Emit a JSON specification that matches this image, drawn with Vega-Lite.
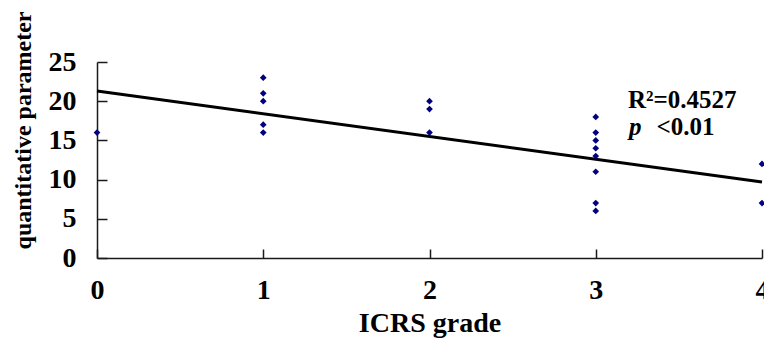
{
  "$schema": "https://vega.github.io/schema/vega-lite/v6.json",
  "width": 665,
  "height": 196,
  "autosize": {"type": "none"},
  "padding": {"left": 97, "top": 62, "right": 2, "bottom": 80},
  "background": "white",
  "config": {
    "view": {"stroke": null},
    "font": "Liberation Serif",
    "axis": {
      "grid": false,
      "domainColor": "#1a1a1a",
      "domainWidth": 1.5,
      "tickColor": "#1a1a1a",
      "tickWidth": 1.5,
      "labelFont": "Liberation Serif",
      "labelFontWeight": "bold",
      "labelFontSize": 28,
      "labelColor": "black",
      "labelFlush": false,
      "labelOverlap": false,
      "titleFont": "Liberation Serif",
      "titleFontWeight": "bold",
      "titleColor": "black"
    }
  },
  "datasets": {
    "points": [
      {"grade": 0, "value": 16},
      {"grade": 1, "value": 23},
      {"grade": 1, "value": 21},
      {"grade": 1, "value": 20},
      {"grade": 1, "value": 17},
      {"grade": 1, "value": 16},
      {"grade": 2, "value": 20},
      {"grade": 2, "value": 19},
      {"grade": 2, "value": 16},
      {"grade": 3, "value": 18},
      {"grade": 3, "value": 16},
      {"grade": 3, "value": 15},
      {"grade": 3, "value": 14},
      {"grade": 3, "value": 13},
      {"grade": 3, "value": 11},
      {"grade": 3, "value": 7},
      {"grade": 3, "value": 6},
      {"grade": 4, "value": 12},
      {"grade": 4, "value": 7}
    ],
    "trend": [
      {"grade": 0, "value": 21.3},
      {"grade": 4, "value": 9.7}
    ],
    "notes": [
      {"label": "R²=0.4527", "grade": 3.194, "value": 19.13},
      {"label": "<0.01", "grade": 3.365, "value": 15.69}
    ],
    "notesItalic": [
      {"label": "p", "grade": 3.2, "value": 15.69}
    ]
  },
  "resolve": {"axis": {"x": "independent", "y": "independent"}},
  "layer": [
    {
      "data": {"name": "trend"},
      "mark": {"type": "line", "color": "black", "strokeWidth": 3},
      "encoding": {
        "x": {
          "field": "grade", "type": "quantitative",
          "scale": {"domain": [0, 4], "nice": false, "zero": false},
          "axis": {
            "orient": "bottom",
            "title": "ICRS grade",
            "values": [0, 1, 2, 3, 4],
            "format": "d",
            "ticks": false,
            "labelPadding": 32,
            "labelBaseline": "middle",
            "titleFontSize": 28,
            "titleBaseline": "alphabetic",
            "titleY": 73
          }
        },
        "y": {
          "field": "value", "type": "quantitative",
          "scale": {"domain": [0, 25], "nice": false},
          "axis": {
            "orient": "left",
            "title": "quantitative parameter",
            "values": [0, 5, 10, 15, 20, 25],
            "format": "d",
            "ticks": false,
            "labelPadding": 21,
            "titleFontSize": 24,
            "titleBaseline": "middle",
            "titleAlign": "center",
            "titleX": -74,
            "titleY": 68
          }
        }
      }
    },
    {
      "data": {"name": "points"},
      "mark": {"type": "point", "shape": "diamond", "filled": true, "color": "#000080", "size": 45, "opacity": 1},
      "encoding": {
        "x": {
          "field": "grade", "type": "quantitative",
          "axis": {
            "orient": "bottom",
            "offset": -9,
            "values": [0, 1, 2, 3, 4],
            "domain": false,
            "labels": false,
            "ticks": true,
            "tickSize": 9,
            "title": null
          }
        },
        "y": {
          "field": "value", "type": "quantitative",
          "axis": {
            "orient": "left",
            "offset": -10,
            "values": [0, 5, 10, 15, 20, 25],
            "domain": false,
            "labels": false,
            "ticks": true,
            "tickSize": 10,
            "title": null
          }
        }
      }
    },
    {
      "data": {"name": "notes"},
      "mark": {"type": "text", "font": "Liberation Serif", "fontWeight": "bold", "fontSize": 25, "align": "left", "baseline": "alphabetic", "color": "black"},
      "encoding": {
        "x": {"field": "grade", "type": "quantitative", "axis": null},
        "y": {"field": "value", "type": "quantitative", "axis": null},
        "text": {"field": "label", "type": "nominal"}
      }
    },
    {
      "data": {"name": "notesItalic"},
      "mark": {"type": "text", "font": "Liberation Serif", "fontStyle": "italic", "fontWeight": "bold", "fontSize": 25, "align": "left", "baseline": "alphabetic", "color": "black"},
      "encoding": {
        "x": {"field": "grade", "type": "quantitative", "axis": null},
        "y": {"field": "value", "type": "quantitative", "axis": null},
        "text": {"field": "label", "type": "nominal"}
      }
    }
  ]
}
